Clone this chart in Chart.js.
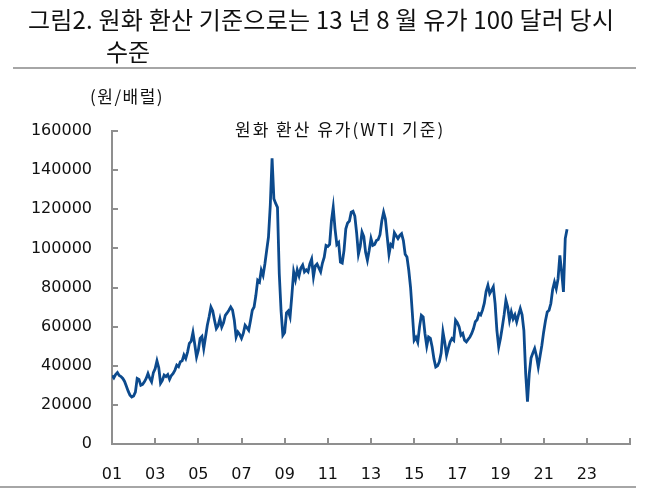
<!DOCTYPE html>
<html>
<head>
<meta charset="utf-8">
<script src="https://cdn.jsdelivr.net/npm/chart.js@4.4.0/dist/chart.umd.min.js"></script>
<style>
  body { margin: 0; background: #fff; }
  #wrap { position: relative; width: 665px; height: 502px; overflow: hidden; font-family: "DejaVu Sans", "Noto Sans CJK KR", sans-serif; color: #111; }
  #chart { position: absolute; left: 0; top: 0; }
  .txt { position: absolute; white-space: nowrap; }
  #title1 { left: 28px; top: 1px; font: 24px "Noto Sans CJK KR"; letter-spacing: 0.2px; }
  #title2 { left: 106px; top: 33px; font: 24px "Noto Sans CJK KR"; }
  #rule1 { position: absolute; left: 13px; top: 67px; width: 623px; height: 2px; background: #a6a6a6; }
  #rule2 { position: absolute; left: 0; top: 486px; width: 636px; height: 2px; background: #a6a6a6; }
  #unit { left: 90px; top: 83px; font: 17px "Noto Sans CJK KR"; letter-spacing: 1.5px; }
  #ctitle { left: 235px; top: 116px; font: 17px "Noto Sans CJK KR"; letter-spacing: 2px; }
</style>
</head>
<body>
<div id="wrap">
  <canvas id="chart" width="665" height="502"></canvas>
  <div class="txt" id="title1">그림2. 원화 환산 기준으로는 13 년 8 월 유가 100 달러 당시</div>
  <div class="txt" id="title2">수준</div>
  <div id="rule1"></div>
  <div class="txt" id="unit">(원/배럴)</div>
  <div class="txt" id="ctitle">원화 환산 유가(WTI 기준)</div>
  <div id="rule2"></div>
</div>
<script>
// 원화 환산 WTI 유가, 월별 (원/배럴), 2001.01 ~ 2022.02
const oil2001 = [35000, 33800, 35500, 36500, 35000, 34500, 33500, 32000, 29500, 27000, 25000, 24000];
const oil2002 = [24500, 26500, 33500, 33000, 30000, 30500, 31800, 33500, 36000, 33500, 31800, 36500];
const oil2003 = [38500, 42500, 39000, 31000, 32500, 35200, 34500, 35500, 33000, 35000, 36100, 37800];
const oil2004 = [40300, 39500, 42000, 42500, 45500, 43700, 47000, 51400, 52500, 57000, 51000, 44500];
const oil2005 = [48000, 54000, 55000, 48800, 54700, 60700, 65000, 70000, 68000, 63300, 59000, 60500];
const oil2006 = [64100, 59800, 62000, 65800, 67000, 68400, 70000, 68500, 63300, 54700, 57300, 56000];
const oil2007 = [54000, 56500, 60700, 59500, 58200, 63000, 68400, 70000, 76000, 83700, 82800, 88800];
const oil2008 = [86200, 92000, 99000, 105800, 122000, 146000, 125400, 123000, 121000, 87000, 68000, 55600];
const oil2009 = [57000, 67000, 68000, 65000, 76000, 88000, 84000, 89000, 86000, 90000, 91500, 88000];
const oil2010 = [89000, 88000, 92000, 94500, 85500, 91000, 92000, 90000, 88000, 92500, 95500, 101500];
const oil2011 = [101000, 102000, 114000, 121000, 110000, 102000, 103000, 93000, 92500, 99000, 110000, 113000];
const oil2012 = [114000, 118500, 119000, 116500, 108000, 97000, 101000, 108300, 106000, 98000, 93900, 99000];
const oil2013 = [105000, 101500, 102000, 104000, 104500, 107000, 114000, 118500, 115000, 106000, 97000, 102000];
const oil2014 = [101000, 108000, 106500, 105000, 106600, 107500, 104000, 97000, 95600, 88800, 80000, 66700];
const oil2015 = [53000, 54500, 52000, 60000, 65800, 65000, 56500, 50000, 54700, 54000, 49600, 43500];
const oil2016 = [39400, 40000, 42000, 46500, 57300, 52000, 45400, 49000, 52200, 53900, 53000, 63300];
const oil2017 = [62000, 59800, 55600, 56500, 53000, 52200, 53500, 54700, 56500, 59000, 62500, 63500];
const oil2018 = [66700, 66000, 68400, 72000, 78000, 81100, 76900, 78500, 80300, 71800, 58000, 49600];
const oil2019 = [54000, 59800, 66000, 73500, 70000, 63300, 67500, 64000, 66000, 62400, 66000, 69200];
const oil2020 = [66000, 58000, 36000, 21600, 36000, 44000, 46500, 48800, 45000, 39400, 45000, 50500];
const oil2021 = [57300, 63000, 67500, 68400, 71800, 79000, 82800, 79400, 84500, 96400, 88000, 77700];
const oil2022 = [105000, 109800];

const startYear = 2001;
const xTickYears = [2001, 2003, 2005, 2007, 2009, 2011, 2013, 2015, 2017, 2019, 2021, 2023, 2025];
const yTicks = [0, 20000, 40000, 60000, 80000, 100000, 120000, 140000, 160000];

const monthly = [].concat(oil2001, oil2002, oil2003, oil2004, oil2005, oil2006, oil2007,
  oil2008, oil2009, oil2010, oil2011, oil2012, oil2013, oil2014, oil2015, oil2016,
  oil2017, oil2018, oil2019, oil2020, oil2021, oil2022);
const points = monthly.map((v, i) => ({ x: startYear + i / 12, y: v }));

const axisColor = '#8f8f8f';
const lineColor = '#0c4a8d';
const labelFont = { family: 'DejaVu Sans', size: 16 };

// 안쪽으로 향하는 눈금
const innerTicks = {
  id: 'innerTicks',
  afterDraw(chart) {
    const { ctx, chartArea, scales } = chart;
    ctx.save();
    ctx.strokeStyle = axisColor;
    ctx.lineWidth = 2;
    ctx.beginPath();
    scales.x.ticks.forEach((t, i) => {
      const px = Math.round(scales.x.getPixelForTick(i));
      ctx.moveTo(px, chartArea.bottom);
      ctx.lineTo(px, chartArea.bottom - 6);
    });
    scales.y.ticks.forEach((t, i) => {
      const py = Math.round(scales.y.getPixelForTick(i));
      ctx.moveTo(chartArea.left, py);
      ctx.lineTo(chartArea.left + 6, py);
    });
    ctx.stroke();
    ctx.restore();
  }
};

new Chart(document.getElementById('chart'), {
  type: 'line',
  data: {
    datasets: [{
      data: points,
      borderColor: lineColor,
      borderWidth: 2.8,
      pointRadius: 0,
      tension: 0,
      fill: false
    }]
  },
  options: {
    responsive: false,
    animation: false,
    devicePixelRatio: 1,
    layout: { padding: { top: 131, right: 35, left: 0, bottom: 0 } },
    plugins: { legend: { display: false }, tooltip: { enabled: false } },
    scales: {
      x: {
        type: 'linear',
        min: 2001,
        max: 2025,
        afterBuildTicks: s => { s.ticks = xTickYears.map(v => ({ value: v })); },
        afterFit: s => { s.height = 58; },
        grid: { display: true, drawOnChartArea: false, drawTicks: false },
        border: { color: axisColor, width: 2 },
        ticks: {
          color: '#111',
          font: labelFont,
          padding: 21,
          maxRotation: 0,
          autoSkip: false,
          callback: v => (v === 2025 ? '' : String(v).slice(2))
        }
      },
      y: {
        min: 0,
        max: 160000,
        afterBuildTicks: s => { s.ticks = yTicks.map(v => ({ value: v })); },
        afterFit: s => { s.width = 112; },
        grid: { display: true, drawOnChartArea: false, drawTicks: false },
        border: { color: axisColor, width: 2 },
        ticks: {
          color: '#111',
          font: labelFont,
          padding: 20,
          autoSkip: false,
          callback: v => String(v)
        }
      }
    }
  },
  plugins: [innerTicks]
});
</script>
</body>
</html>
